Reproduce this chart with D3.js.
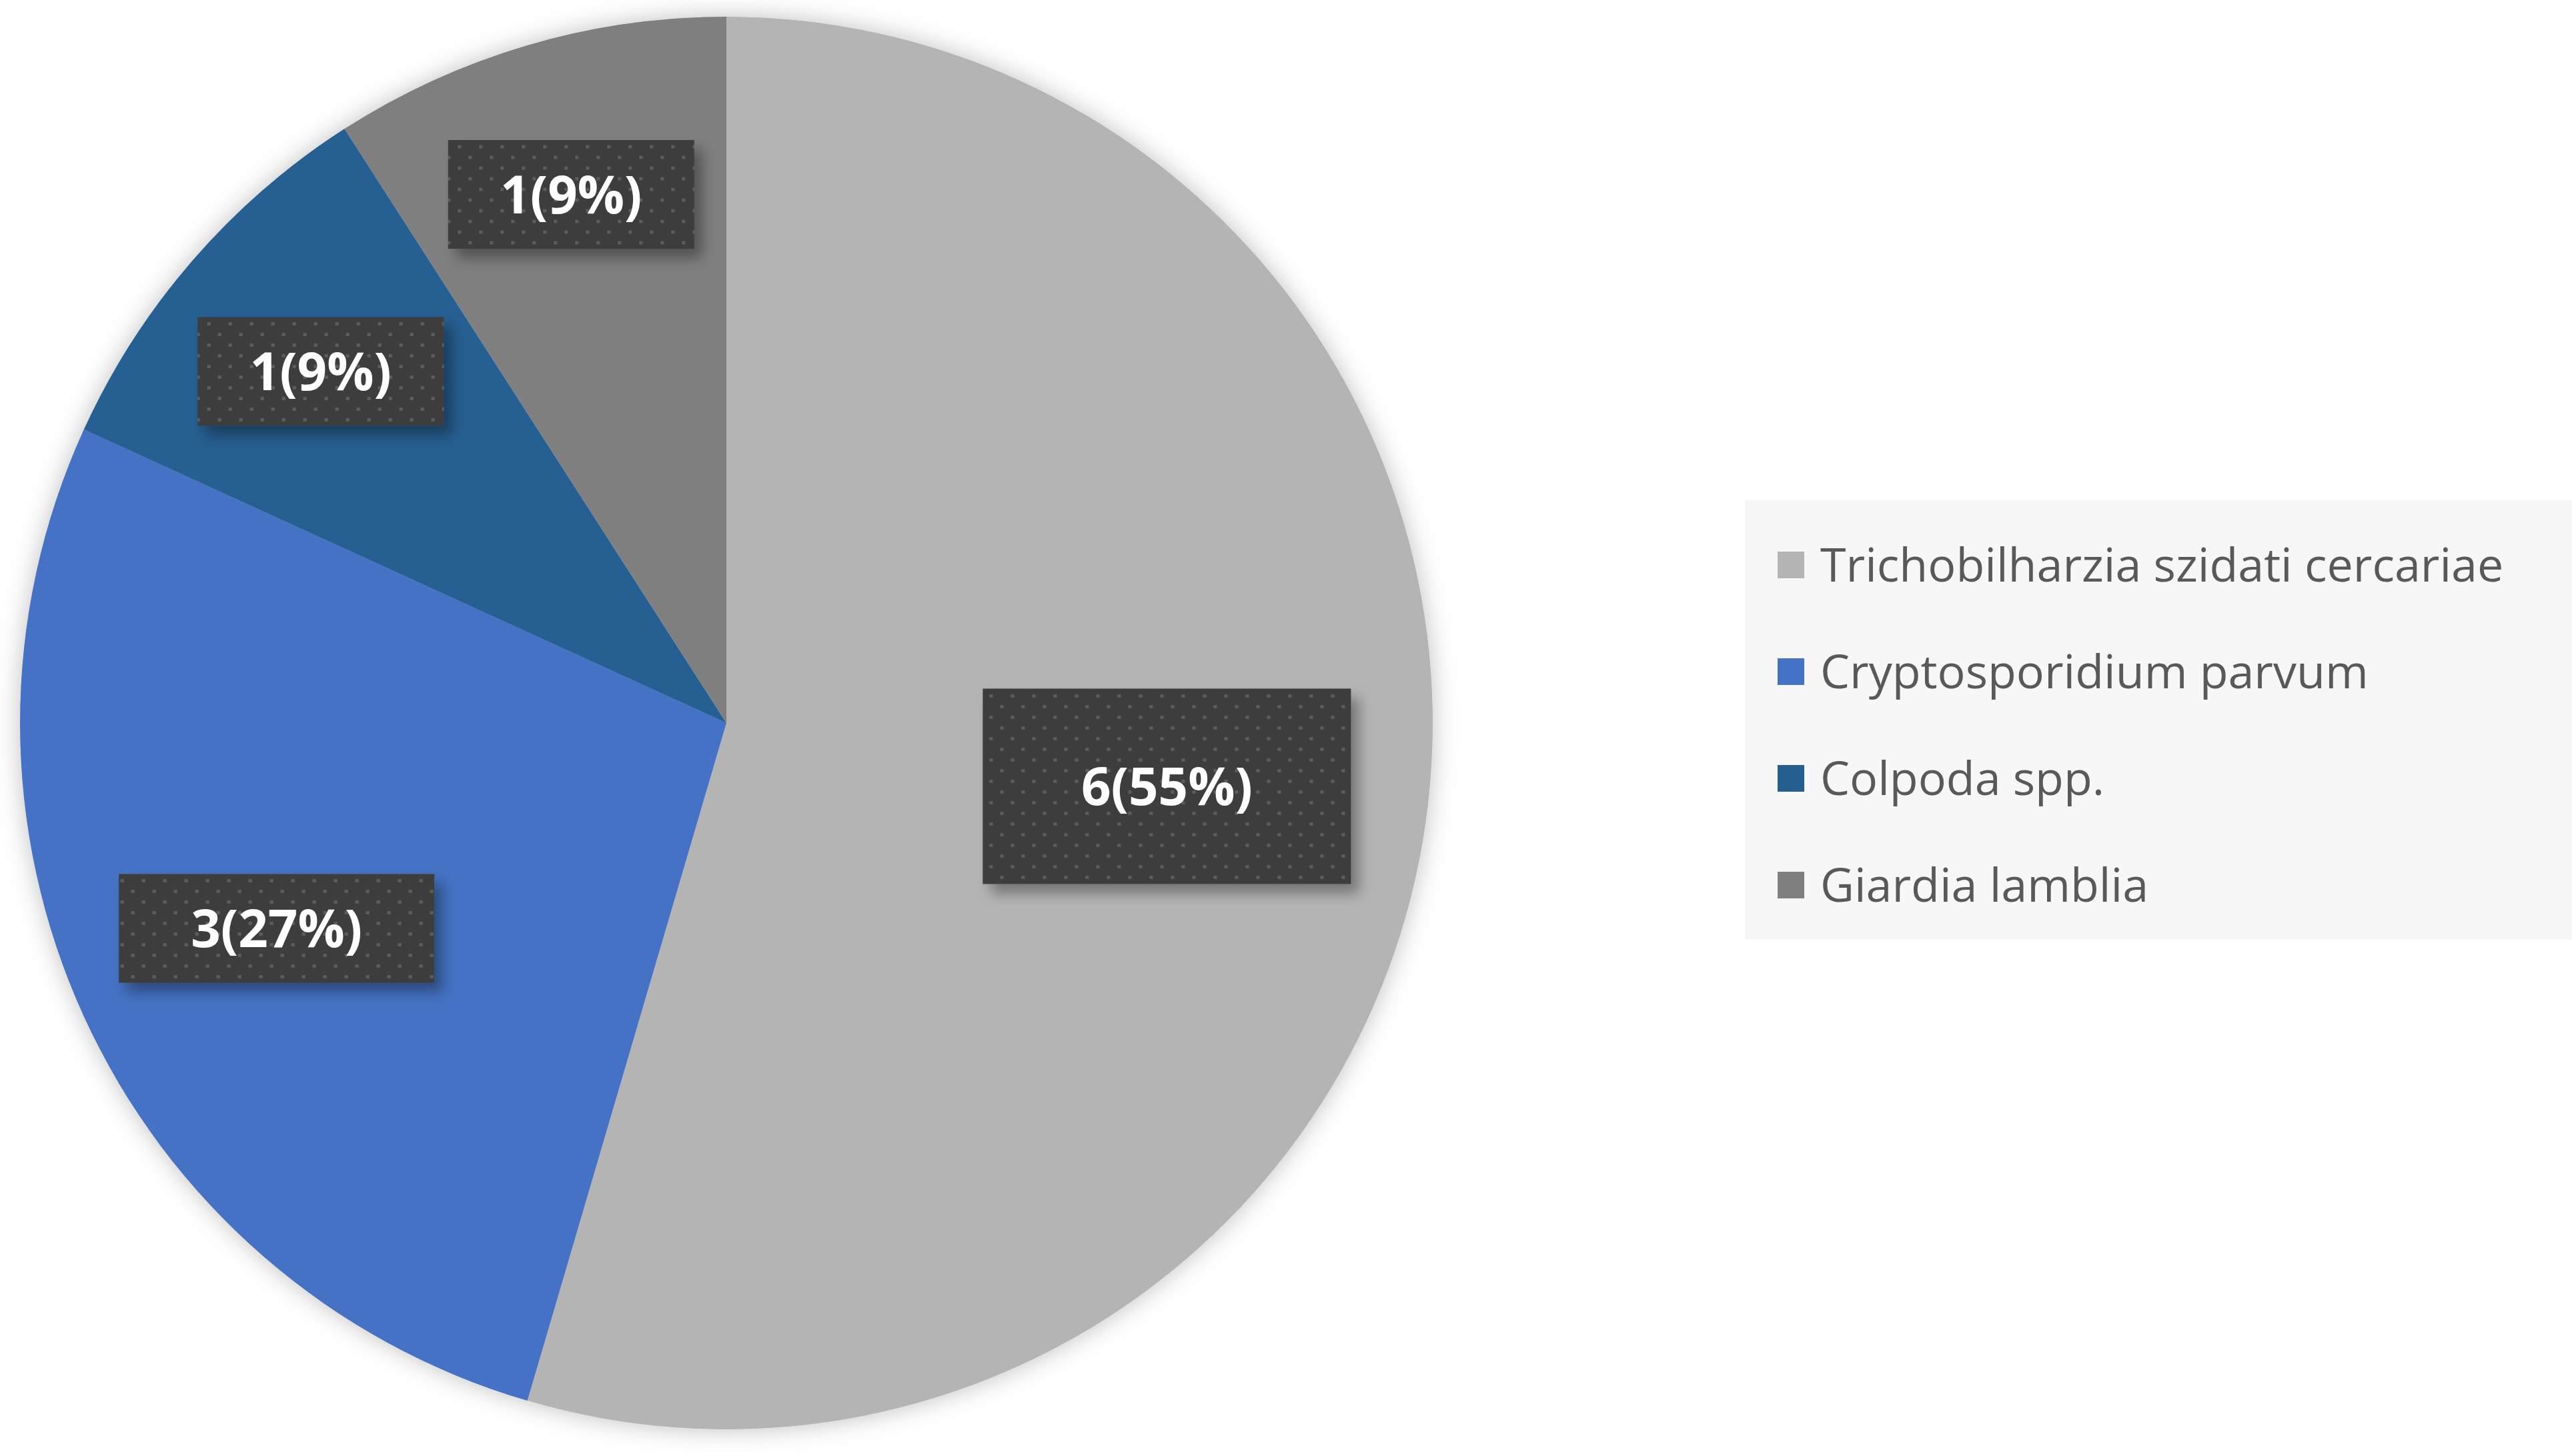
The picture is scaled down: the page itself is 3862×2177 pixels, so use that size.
<!DOCTYPE html>
<html>
<head>
<meta charset="utf-8">
<script src="https://cdn.jsdelivr.net/npm/d3@7"></script>
<style>
  body { margin: 0; background: #fff; }
</style>
</head>
<body>
<svg id="chart"></svg>
<script>
const categories = ["Trichobilharzia szidati cercariae", "Cryptosporidium parvum", "Colpoda spp.", "Giardia lamblia"];
const counts = [6, 3, 1, 1];
const labels = ["6(55%)", "3(27%)", "1(9%)", "1(9%)"];
const colors = ["#b4b4b4", "#4472c4", "#255e91", "#7f7f7f"];

const width = 3862, height = 2177;
const cx = 1089, cy = 1084, r = 1059;
const labelRadius = [0.63, 0.70, 0.76, 0.78];
const boxSize = [[552, 293], [473, 163], [369, 163], [369, 163]];

const svg = d3.select("#chart").attr("width", width).attr("height", height);
const defs = svg.append("defs");

defs.append("filter").attr("id", "shadow")
    .attr("x", "-20%").attr("y", "-20%").attr("width", "140%").attr("height", "140%")
  .append("feDropShadow")
    .attr("dx", 0).attr("dy", 0).attr("stdDeviation", 18)
    .attr("flood-color", "#000").attr("flood-opacity", 0.25);

defs.append("filter").attr("id", "boxShadow")
    .attr("x", "-20%").attr("y", "-30%").attr("width", "150%").attr("height", "160%")
  .append("feDropShadow")
    .attr("dx", 12).attr("dy", 14).attr("stdDeviation", 10)
    .attr("flood-color", "#000").attr("flood-opacity", 0.35);

const pat = defs.append("pattern").attr("id", "dots")
    .attr("width", 32).attr("height", 32).attr("patternUnits", "userSpaceOnUse");
pat.append("rect").attr("width", 32).attr("height", 32).attr("fill", "#3d3d3d");
pat.append("rect").attr("x", 6).attr("y", 6).attr("width", 5).attr("height", 5).attr("fill", "#5c5c5c");
pat.append("rect").attr("x", 22).attr("y", 22).attr("width", 5).attr("height", 5).attr("fill", "#5c5c5c");

const pie = d3.pie().sort(null).value(d => d)(counts);
const arc = d3.arc().innerRadius(0).outerRadius(r);

const g = svg.append("g").attr("transform", `translate(${cx},${cy})`);
g.append("g").attr("filter", "url(#shadow)")
  .selectAll("path").data(pie).join("path")
    .attr("d", arc)
    .attr("fill", (d, i) => colors[i]);

const lab = g.selectAll("g.lab").data(pie).join("g").attr("class", "lab")
    .attr("transform", (d, i) => {
      const c = d3.arc().innerRadius(0).outerRadius(r * labelRadius[i] * 2).centroid(d);
      return `translate(${c[0]},${c[1]})`;
    });
lab.append("rect")
    .attr("x", (d, i) => -boxSize[i][0] / 2).attr("y", (d, i) => -boxSize[i][1] / 2)
    .attr("width", (d, i) => boxSize[i][0]).attr("height", (d, i) => boxSize[i][1])
    .attr("fill", "url(#dots)").attr("filter", "url(#boxShadow)");
lab.append("text")
    .attr("text-anchor", "middle").attr("dy", "0.36em")
    .attr("font-family", "Open Sans, sans-serif").attr("font-weight", "bold")
    .attr("font-size", 78).attr("fill", "#fff")
    .text((d, i) => labels[i]);

// legend
const legend = svg.append("g");
legend.append("rect").attr("x", 2616).attr("y", 750).attr("width", 1240).attr("height", 659).attr("fill", "#f7f7f7");
const rows = legend.selectAll("g.row").data(categories).join("g").attr("class", "row")
    .attr("transform", (d, i) => `translate(2665, ${847 + i * 160})`);
rows.append("rect").attr("x", 0).attr("y", -20).attr("width", 40).attr("height", 40)
    .attr("fill", (d, i) => colors[i]);
rows.append("text").attr("x", 64).attr("dy", "0.35em")
    .attr("font-family", "Open Sans, sans-serif").attr("font-size", 70).attr("fill", "#595959")
    .text(d => d);
</script>
</body>
</html>
